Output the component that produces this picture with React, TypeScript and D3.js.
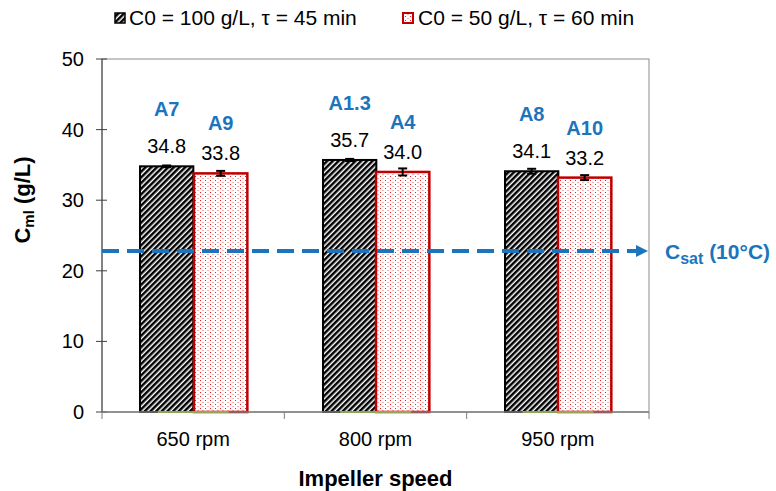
import React from "react";
import * as d3 from "d3";

const categories = ["650 rpm", "800 rpm", "950 rpm"];
const seriesNames = ["C0 = 100 g/L, τ = 45 min", "C0 = 50 g/L, τ = 60 min"];
const series1Values = [34.8, 35.7, 34.1];
const series2Values = [33.8, 34.0, 33.2];
const series1Errors = [0.12, 0.15, 0.35];
const series2Errors = [0.35, 0.5, 0.35];
const series1Labels = ["A7", "A1.3", "A8"];
const series2Labels = ["A9", "A4", "A10"];
const yTicks = [0, 10, 20, 30, 40, 50];
const csatValue = 22.8;

const W = 776;
const H = 491;
const L = 102;
const R = 649;
const T = 59;
const B = 412;
const BLUE = "#1C75BC";
const RED = "#C00000";
const FONT = "Arial, 'Liberation Sans', sans-serif";

export default function App() {
  const x = d3.scaleBand<string>().domain(categories).range([L, R]).padding(0);
  const bw = x.bandwidth();
  const x1 = d3
    .scaleBand<number>()
    .domain([0, 1])
    .range([bw * 0.21, bw * 0.795])
    .padding(0);
  const y = d3.scaleLinear().domain([0, 50]).range([B, T]);

  const series = [
    { values: series1Values, errors: series1Errors, labels: series1Labels, fill: "url(#hatch)", stroke: "#000", sw: 2, labelGap: 37 },
    { values: series2Values, errors: series2Errors, labels: series2Labels, fill: "url(#dots)", stroke: RED, sw: 2.5, labelGap: 30 },
  ];

  const boundaries = [...categories.map((c) => x(c) as number), R];
  const yc = y(csatValue);

  return (
    <svg
      width={W}
      height={H}
      style={{ position: "absolute", left: 0, top: 0, background: "#fff" }}
      fontFamily={FONT}
    >
      <defs>
        <pattern id="hatch" width="4" height="4" patternUnits="userSpaceOnUse" patternTransform="rotate(45)">
          <rect width="4" height="4" fill="#fff" />
          <rect width="2.5" height="4" fill="#000" />
        </pattern>
        <pattern id="dots" x="0" y="0" width="5" height="4" patternUnits="userSpaceOnUse">
          <rect width="5" height="4" fill="#fff" />
          <rect x="0" y="0" width="1" height="1" fill="#E02020" shapeRendering="crispEdges" />
          <rect x="2" y="2" width="2" height="1" fill="#F7B0B0" shapeRendering="crispEdges" />
        </pattern>
      </defs>

      {/* frame */}
      <rect x={L} y={T} width={R - L} height={B - T} fill="none" stroke="#8c8c8c" strokeWidth={1} />

      {/* y ticks */}
      {yTicks.map((t) => (
        <g key={t}>
          <line x1={L - 6} x2={L + 5} y1={y(t)} y2={y(t)} stroke="#404040" strokeWidth={1} />
          <text x={L - 18} y={y(t)} dy="0.35em" textAnchor="end" fontSize={20} fill="#000">
            {t}
          </text>
        </g>
      ))}

      {/* bars */}
      {series.map((s, si) =>
        categories.map((c, ci) => {
          const bx = Math.round((x(c) as number) + (x1(si) as number));
          const bwid = x1.bandwidth();
          const top = y(s.values[ci]);
          return (
            <rect
              key={`${si}-${ci}`}
              x={bx}
              y={top}
              width={bwid}
              height={B - top}
              fill={s.fill}
              stroke={s.stroke}
              strokeWidth={s.sw}
            />
          );
        })
      )}

      {/* axes lines */}
      <line x1={L} x2={L} y1={T} y2={B} stroke="#404040" strokeWidth={1} />
      <line x1={L} x2={R} y1={B} y2={B} stroke="#7f7f7f" strokeWidth={1.3} />
      {categories.map((c) => {
        const x0 = (x(c) as number) + (x1(0) as number) + x1.bandwidth() * 0.33;
        const x2 = (x(c) as number) + (x1(1) as number) + x1.bandwidth() * 0.66;
        return <line key={`g${c}`} x1={x0} x2={x2} y1={B} y2={B} stroke="#9BBB59" strokeWidth={1.5} />;
      })}
      {boundaries.map((b, i) => (
        <line key={i} x1={b} x2={b} y1={B} y2={B + 7} stroke="#7f7f7f" strokeWidth={1} />
      ))}

      {/* error bars and labels */}
      {series.map((s, si) =>
        categories.map((c, ci) => {
          const cx = Math.round((x(c) as number) + (x1(si) as number)) + x1.bandwidth() / 2;
          const v = s.values[ci];
          const e = s.errors[ci];
          const vb = y(v) - 13;
          return (
            <g key={`e${si}-${ci}`}>
              <line x1={cx} x2={cx} y1={y(v - e)} y2={y(v + e)} stroke="#000" strokeWidth={2} />
              <line x1={cx - 4.5} x2={cx + 4.5} y1={y(v - e)} y2={y(v - e)} stroke="#000" strokeWidth={2} />
              <line x1={cx - 4.5} x2={cx + 4.5} y1={y(v + e)} y2={y(v + e)} stroke="#000" strokeWidth={2} />
              <text x={cx} y={vb} textAnchor="middle" fontSize={20} fill="#000">
                {v.toFixed(1)}
              </text>
              <text x={cx} y={vb - s.labelGap} textAnchor="middle" fontSize={20} fontWeight="bold" fill={BLUE}>
                {s.labels[ci]}
              </text>
            </g>
          );
        })
      )}

      {/* Csat line */}
      <line x1={L} x2={637} y1={yc} y2={yc} stroke={BLUE} strokeWidth={4} strokeDasharray="17 8" />
      <path d={`M${R - 1},${yc} L${R - 13},${yc - 6} L${R - 13},${yc + 6} Z`} fill={BLUE} />
      <text x={665} y={yc + 8} fontSize={21} fontWeight="bold" fill={BLUE}>
        C
        <tspan fontSize={16} dy={5}>sat</tspan>
        <tspan dy={-5}> (10°C)</tspan>
      </text>

      {/* category labels */}
      {categories.map((c) => (
        <text key={c} x={(x(c) as number) + bw / 2} y={446} textAnchor="middle" fontSize={20} fill="#000">
          {c}
        </text>
      ))}

      {/* axis titles */}
      <text x={(L + R) / 2} y={486} textAnchor="middle" fontSize={22} fontWeight="bold" fill="#000">
        Impeller speed
      </text>
      <text transform={`translate(30,200) rotate(-90)`} textAnchor="middle" fontSize={22} fontWeight="bold" fill="#000">
        C<tspan fontSize={15} dy={4}>ml</tspan>
        <tspan dy={-4}> (g/L)</tspan>
      </text>

      {/* legend */}
      <rect x={115} y={13} width={10} height={10} fill="url(#hatch)" stroke="#000" strokeWidth={1.5} />
      <text x={129} y={25} fontSize={21} fill="#000">
        {seriesNames[0]}
      </text>
      <rect x={403} y={13} width={10} height={10} fill="url(#dots)" stroke={RED} strokeWidth={2} />
      <text x={418} y={25} fontSize={21} fill="#000">
        {seriesNames[1]}
      </text>
    </svg>
  );
}
